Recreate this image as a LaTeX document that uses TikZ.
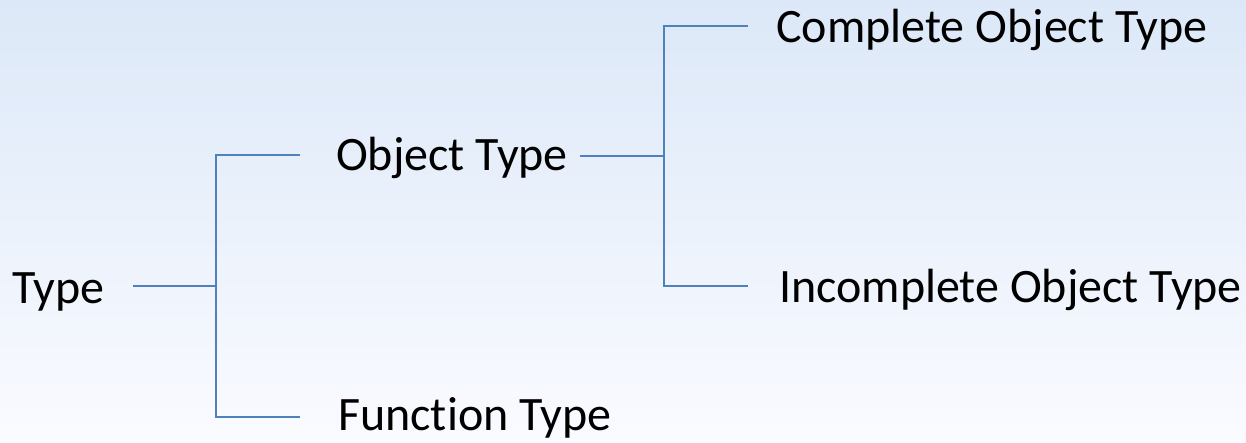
\documentclass[tikz,border=0pt]{standalone}
\usepackage{fontspec}
\setmainfont[Ligatures=NoCommon]{Carlito}
\definecolor{conncol}{HTML}{4F81BD}
\definecolor{bgtop}{HTML}{DCE8F8}
\definecolor{bgbot}{HTML}{FAFBFF}
\begin{document}
\begin{tikzpicture}[x=1pt,y=-1pt,
  lbl/.style={anchor=base west,inner sep=0pt,font=\fontsize{48}{52}\selectfont,text=black},
  conn/.style={draw=conncol,line width=2pt}]
\shade[top color=bgtop,bottom color=bgbot] (0,0) rectangle (1246,442);
\useasboundingbox (0,0) rectangle (1246,442);
% labels
\node[lbl] (type) at (12,303) {Type};
\node[lbl] (obj) at (336,170) {Object Type};
\node[lbl] (fun) at (338,430) {Function Type};
\node[lbl] (comp) at (776,42) {Complete Object Type};
\node[lbl] (incomp) at (779,302) {Incomplete Object Type};
% line ends
\coordinate (a0) at (133,286);
\coordinate (j1) at (216,286);
\coordinate (j1t) at (216,155);
\coordinate (j1b) at (216,417);
\coordinate (a1) at (300,155);
\coordinate (a2) at (300,417);
\coordinate (b0) at (580,156);
\coordinate (j2) at (664,156);
\coordinate (j2t) at (664,26);
\coordinate (j2b) at (664,286);
\coordinate (b1) at (748,26);
\coordinate (b2) at (748,286);
% connectors
\draw[conn] (a0) -- (j1);
\draw[conn] (a1) -- (j1t) -- (j1b) -- (a2);
\draw[conn] (b0) -- (j2);
\draw[conn] (b1) -- (j2t) -- (j2b) -- (b2);
\end{tikzpicture}
\end{document}
